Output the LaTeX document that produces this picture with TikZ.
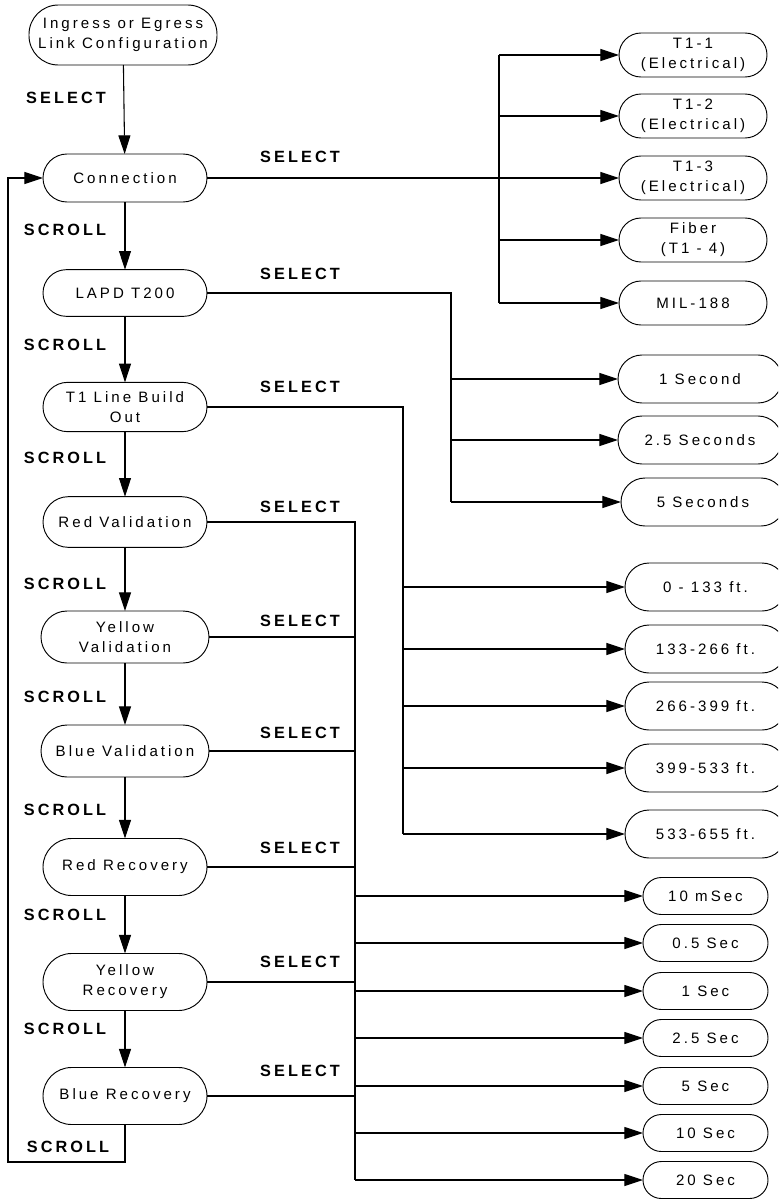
\documentclass[tikz,border=0pt]{standalone}
\usepackage{fontspec}
\setmainfont{Liberation Sans}
\newfontfamily\boxfont[LetterSpace=20]{Liberation Sans}
\newfontfamily\tagfont[LetterSpace=19]{Liberation Sans}
\usetikzlibrary{arrows.meta}

\begin{document}
\begin{tikzpicture}[x=0.75pt,y=-0.75pt,
  every node/.style={inner sep=0pt, outer sep=0pt},
  box/.style={draw, line width=0.7pt, align=center,
    font=\boxfont\fontsize{11.3}{15}\selectfont},
  lnode/.style={box, minimum width=123pt, minimum height=36pt, rounded corners=18pt},
  tnode/.style={box, minimum width=111pt, minimum height=33pt, rounded corners=16.5pt},
  snode/.style={box, minimum width=123pt, minimum height=36pt, rounded corners=18pt},
  fnode/.style={box, minimum width=120.75pt, minimum height=36pt, rounded corners=18pt},
  cnode/.style={box, minimum width=93.75pt, minimum height=27.75pt, rounded corners=13.8pt},
  tag/.style={font=\tagfont\bfseries\fontsize{12.2}{14}\selectfont},
  wire/.style={line width=0.8pt},
  arr/.style={wire, -{Triangle[length=14pt,width=9pt]}}]

\clip (0,0) rectangle (778,1199);

% main menu column
\node[box, minimum width=141pt, minimum height=45pt, rounded corners=22pt] (ing) at (123,35) {Ingress or Egress\\Link Configuration};
\node[lnode] (conn) at (125,178) {Connection};
\node[lnode, minimum height=35pt, rounded corners=17.5pt] (lapd) at (125,293) {LAPD T200};
\node[lnode, minimum height=37pt, rounded corners=18.5pt] (tlbo) at (125,407) {T1 Line Build\\Out};
\node[lnode, minimum height=38pt, rounded corners=19pt] (rval) at (125,522) {Red Validation};
\node[lnode, minimum width=126pt, minimum height=39pt, rounded corners=19.5pt] (yval) at (125,637) {Yellow\\Validation};
\node[lnode, minimum width=126pt, minimum height=39pt, rounded corners=19.5pt] (bval) at (125,751) {Blue Validation};
\node[lnode, minimum height=42.75pt, rounded corners=21.4pt] (rrec) at (125,867) {Red Recovery};
\node[lnode, minimum height=42.75pt, rounded corners=21.4pt] (yrec) at (125,982) {Yellow\\Recovery};
\node[lnode, minimum height=42.75pt, rounded corners=21.4pt] (brec) at (125,1096) {Blue Recovery};

% connection choices
\node[tnode] (t11) at (693,55) {T1-1\\(Electrical)};
\node[tnode] (t12) at (693,116) {T1-2\\(Electrical)};
\node[tnode] (t13) at (693,178) {T1-3\\(Electrical)};
\node[tnode] (fib) at (693,240) {Fiber\\(T1 - 4)};
\node[tnode] (mil) at (693,303) {MIL-188};

% LAPD T200 choices
\node[snode] (s1) at (700,379) {1 Second};
\node[snode] (s25) at (700,440) {2.5 Seconds};
\node[snode] (s5) at (703,502) {5 Seconds};

% line build out choices
\node[fnode] (f1) at (705.5,587) {0 - 133 ft.};
\node[fnode] (f2) at (705.5,649) {133-266 ft.};
\node[fnode] (f3) at (705.5,706) {266-399 ft.};
\node[fnode] (f4) at (705.5,768) {399-533 ft.};
\node[fnode] (f5) at (705.5,834) {533-655 ft.};

% validation / recovery time choices
\node[cnode] (c1) at (705.5,896) {10 mSec};
\node[cnode] (c2) at (705.5,943) {0.5 Sec};
\node[cnode] (c3) at (705.5,991) {1 Sec};
\node[cnode] (c4) at (705.5,1038) {2.5 Sec};
\node[cnode] (c5) at (705.5,1086) {5 Sec};
\node[cnode] (c6) at (705.5,1133) {10 Sec};
\node[cnode] (c7) at (705.5,1180) {20 Sec};

% key labels
\node[tag] (selI) at (66,98) {SELECT};
\foreach \nm/\yy in {sel1/157, sel2/274, sel3/387, sel4/507, sel5/621, sel6/733, sel7/848, sel8/962, sel9/1071}
  \node[tag] (\nm) at (300,\yy) {SELECT};
\foreach \nm/\yy in {scr1/230, scr2/345, scr3/458, scr4/584, scr5/697, scr6/810, scr7/915, scr8/1029}
  \node[tag] (\nm) at (65,\yy) {SCROLL};
\node[tag] (scr9) at (68,1147) {SCROLL};

% bus lines
\coordinate (busA) at (499,0);
\coordinate (busB) at (451,0);
\coordinate (busC) at (403,0);
\coordinate (busD) at (355,0);
\coordinate (loop) at (8,1162);

% scroll chain
\draw[arr] (ing) -- (conn);
\draw[arr] (conn) -- (lapd);
\draw[arr] (lapd) -- (tlbo);
\draw[arr] (tlbo) -- (rval);
\draw[arr] (rval) -- (yval);
\draw[arr] (yval) -- (bval);
\draw[arr] (bval) -- (rrec);
\draw[arr] (rrec) -- (yrec);
\draw[arr] (yrec) -- (brec);
\draw[arr] (brec.south) |- (loop) |- (conn.west);

% connection selection
\draw[wire] (conn.east) -- (busA |- conn.east);
\draw[wire] (busA |- t11.west) -- (busA |- mil.west);
\foreach \n in {t11,t12,t13,fib,mil}
  \draw[arr] (busA |- \n.west) -- (\n.west);

% LAPD T200 selection
\draw[wire] (lapd.east) -| (busB |- s5.west);
\foreach \n in {s1,s25,s5}
  \draw[arr] (busB |- \n.west) -- (\n.west);

% line build out selection
\draw[wire] (tlbo.east) -| (busC |- f5.west);
\foreach \n in {f1,f2,f3,f4,f5}
  \draw[arr] (busC |- \n.west) -- (\n.west);

% validation and recovery selection
\draw[wire] (rval.east) -| (busD |- c7.west);
\foreach \n in {yval,bval,rrec,yrec,brec}
  \draw[wire] (\n.east) -- (busD |- \n.east);
\foreach \n in {c1,c2,c3,c4,c5,c6,c7}
  \draw[arr] (busD |- \n.west) -- (\n.west);

\end{tikzpicture}
\end{document}
